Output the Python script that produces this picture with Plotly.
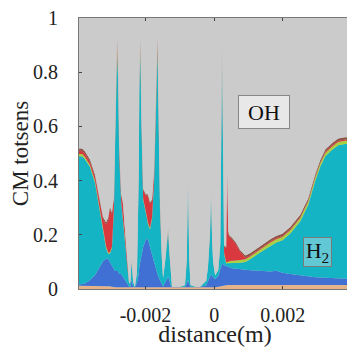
import plotly.graph_objects as go

# distance (m)
x = [-0.00394, -0.00385, -0.00377, -0.00362, -0.00347, -0.00333, -0.00324, -0.00315, -0.00309, -0.00304,
     -0.00298, -0.00292, -0.00289, -0.00286, -0.00283, -0.00280, -0.00277, -0.00271, -0.00266, -0.00260,
     -0.00254, -0.00248, -0.00244, -0.00241, -0.00236, -0.00231, -0.00225, -0.00220, -0.00218, -0.00215,
     -0.00212, -0.00207, -0.00199, -0.00193, -0.00187, -0.00181, -0.00175, -0.00171, -0.00168, -0.00165,
     -0.00162, -0.00158, -0.00153, -0.00149, -0.00143, -0.00139, -0.00134, -0.00131, -0.00127, -0.00123,
     -0.00099, -0.00085, -0.00080, -0.00076, -0.00073, -0.00069, -0.00055, -0.00041, -0.00023, -0.00018,
     -0.00012, -0.00009, -0.00006, -0.00003, 0.00003, 0.00012, 0.00018, 0.00020, 0.00023, 0.00026,
     0.00029, 0.00035, 0.00038, 0.00041, 0.00044, 0.00053, 0.00064, 0.00076, 0.00091, 0.00105,
     0.00134, 0.00164, 0.00181, 0.00199, 0.00222, 0.00251, 0.00274, 0.00295, 0.00309, 0.00324,
     0.00345, 0.00362, 0.00382, 0.00399]

tan = [0.012, 0.012, 0.012, 0.012, 0.012, 0.012, 0.012, 0.012, 0.012, 0.010,
       0.008, 0.006, 0.006, 0.006, 0.006, 0.006, 0.006, 0.005, 0.005, 0.004,
       0.004, 0.004, 0.004, 0.004, 0.004, 0.004, 0.004, 0.004, 0.004, 0.004,
       0.004, 0.004, 0.004, 0.004, 0.004, 0.004, 0.004, 0.004, 0.004, 0.004,
       0.004, 0.004, 0.004, 0.004, 0.004, 0.004, 0.004, 0.004, 0.004, 0.004,
       0.004, 0.004, 0.004, 0.004, 0.004, 0.004, 0.004, 0.004, 0.004, 0.004,
       0.004, 0.004, 0.004, 0.004, 0.006, 0.008, 0.010, 0.010, 0.012, 0.012,
       0.012, 0.015, 0.015, 0.015, 0.015, 0.015, 0.015, 0.015, 0.015, 0.015,
       0.015, 0.015, 0.015, 0.015, 0.015, 0.015, 0.015, 0.015, 0.015, 0.015,
       0.015, 0.015, 0.015, 0.015]

blue = [0.005, 0.006, 0.008, 0.020, 0.040, 0.070, 0.090, 0.100, 0.100, 0.090,
        0.080, 0.070, 0.060, 0.060, 0.060, 0.060, 0.050, 0.050, 0.040, 0.030,
        0.020, 0.005, 0.005, 0.030, 0.005, 0.003, 0.020, 0.050, 0.080, 0.100,
        0.120, 0.150, 0.180, 0.180, 0.150, 0.120, 0.090, 0.070, 0.060, 0.050,
        0.040, 0.030, 0.015, 0.005, 0.020, 0.030, 0.040, 0.030, 0.010, 0.003,
        0.003, 0.004, 0.015, 0.030, 0.015, 0.004, 0.003, 0.003, 0.010, 0.025,
        0.040, 0.050, 0.045, 0.040, 0.030, 0.040, 0.060, 0.070, 0.080, 0.080,
        0.075, 0.070, 0.068, 0.066, 0.065, 0.062, 0.060, 0.058, 0.056, 0.054,
        0.052, 0.050, 0.052, 0.045, 0.040, 0.035, 0.030, 0.028, 0.027, 0.026,
        0.025, 0.024, 0.023, 0.022]

cyan = [0.473, 0.472, 0.460, 0.418, 0.338, 0.208, 0.118, 0.038, 0.018, 0.030,
        0.062, 0.224, 0.454, 0.684, 0.794, 0.714, 0.444, 0.265, 0.215, 0.146,
        0.066, 0.011, 0.016, 0.066, 0.016, 0.001, 0.036, 0.346, 0.666, 0.766,
        0.476, 0.176, 0.096, 0.056, 0.066, 0.136, 0.306, 0.546, 0.756, 0.826,
        0.576, 0.266, 0.101, 0.031, 0.076, 0.116, 0.166, 0.106, 0.046, 0.001,
        0.001, 0.007, 0.081, 0.356, 0.101, 0.007, 0.001, 0.001, 0.016, 0.051,
        0.156, 0.296, 0.131, 0.056, 0.014, 0.022, 0.090, 0.340, 0.768, 0.408,
        0.043, 0.010, 0.012, 0.014, 0.015, 0.018, 0.020, 0.024, 0.029, 0.041,
        0.068, 0.095, 0.105, 0.120, 0.150, 0.200, 0.265, 0.357, 0.408, 0.449,
        0.475, 0.491, 0.497, 0.498]

green = [0.008, 0.008, 0.008, 0.008, 0.008, 0.008, 0.008, 0.008, 0.005, 0.005,
         0.005, 0.005, 0.005, 0.010, 0.030, 0.010, 0.005, 0.005, 0.005, 0.005,
         0.003, 0.000, 0.000, 0.003, 0.000, 0.000, 0.000, 0.005, 0.010, 0.020,
         0.005, 0.005, 0.005, 0.005, 0.005, 0.005, 0.005, 0.005, 0.010, 0.020,
         0.005, 0.005, 0.003, 0.000, 0.000, 0.003, 0.005, 0.003, 0.000, 0.000,
         0.000, 0.000, 0.002, 0.005, 0.002, 0.000, 0.000, 0.000, 0.000, 0.000,
         0.003, 0.005, 0.003, 0.000, 0.000, 0.000, 0.003, 0.005, 0.020, 0.005,
         0.005, 0.005, 0.005, 0.005, 0.008, 0.008, 0.010, 0.010, 0.010, 0.010,
         0.012, 0.012, 0.012, 0.012, 0.012, 0.012, 0.012, 0.012, 0.012, 0.012,
         0.012, 0.012, 0.012, 0.012]

red = [0.012, 0.012, 0.012, 0.012, 0.015, 0.020, 0.030, 0.080, 0.120, 0.160,
       0.120, 0.030, 0.020, 0.020, 0.020, 0.020, 0.030, 0.020, 0.050, 0.030,
       0.005, 0.000, 0.000, 0.003, 0.000, 0.000, 0.000, 0.010, 0.010, 0.020,
       0.020, 0.030, 0.060, 0.100, 0.090, 0.060, 0.030, 0.020, 0.020, 0.020,
       0.020, 0.020, 0.005, 0.000, 0.000, 0.005, 0.005, 0.003, 0.000, 0.000,
       0.000, 0.000, 0.002, 0.005, 0.002, 0.000, 0.000, 0.000, 0.000, 0.000,
       0.003, 0.005, 0.003, 0.000, 0.000, 0.000, 0.003, 0.005, 0.020, 0.010,
       0.020, 0.050, 0.340, 0.110, 0.090, 0.080, 0.060, 0.030, 0.006, 0.004,
       0.004, 0.004, 0.004, 0.004, 0.004, 0.004, 0.004, 0.004, 0.004, 0.005,
       0.005, 0.005, 0.005, 0.005]

brown = [0.008, 0.008, 0.008, 0.008, 0.008, 0.008, 0.008, 0.008, 0.008, 0.008,
         0.008, 0.005, 0.005, 0.010, 0.020, 0.010, 0.005, 0.005, 0.005, 0.005,
         0.003, 0.000, 0.000, 0.003, 0.000, 0.000, 0.000, 0.005, 0.010, 0.020,
         0.005, 0.005, 0.005, 0.005, 0.005, 0.005, 0.005, 0.005, 0.010, 0.020,
         0.005, 0.005, 0.003, 0.000, 0.000, 0.003, 0.005, 0.003, 0.000, 0.000,
         0.000, 0.000, 0.002, 0.005, 0.002, 0.000, 0.000, 0.000, 0.000, 0.000,
         0.003, 0.005, 0.003, 0.000, 0.000, 0.000, 0.003, 0.005, 0.020, 0.005,
         0.005, 0.005, 0.005, 0.005, 0.005, 0.005, 0.006, 0.006, 0.008, 0.008,
         0.008, 0.008, 0.008, 0.008, 0.008, 0.008, 0.008, 0.008, 0.008, 0.008,
         0.008, 0.008, 0.008, 0.008]

# OH fills the remainder up to 1
oh = [1 - (a + b + c + d + e + f) for a, b, c, d, e, f in zip(tan, blue, cyan, green, red, brown)]

y_ticks = [0, 0.2, 0.4, 0.6, 0.8, 1]
y_ticktext = ["0", "0.2", "0.4", "0.6", "0.8", "1"]
x_ticks = [-0.002, 0, 0.002]
x_ticktext = ["-0.002", "0", "0.002"]

layers = [
    ("tan", tan, "#E3B48A"),
    ("blue", blue, "#4070D4"),
    ("H2", cyan, "#14B4C4"),
    ("green", green, "#A8D040"),
    ("red", red, "#D8383E"),
    ("brown", brown, "#8C5040"),
    ("OH", oh, "#CBCBCB"),
]

fig = go.Figure()
for name, vals, col in layers:
    fig.add_trace(go.Scatter(x=x, y=vals, name=name, mode="lines", stackgroup="one",
                             line=dict(width=0, color=col), fillcolor=col, hoverinfo="skip"))

font = "Liberation Serif, Times New Roman, DejaVu Serif, serif"
fig.add_annotation(x=0.00146, y=0.653, text="OH", showarrow=False, xref="x", yref="y",
                   font=dict(family=font, size=22, color="#111"), bgcolor="#E8E8E8",
                   bordercolor="#888888", borderwidth=1, width=50, height=32, borderpad=0)
fig.add_annotation(x=0.00302, y=0.137, text="H<sub>2</sub>", showarrow=False, xref="x", yref="y",
                   font=dict(family=font, size=22, color="#111"), bgcolor="#62C9D4",
                   bordercolor="#7a7a7a", borderwidth=1, width=27, height=28, borderpad=0)

axis_common = dict(showline=True, mirror="ticks", linecolor="#777", linewidth=1,
                   ticks="inside", ticklen=3, tickcolor="#444", showgrid=False, zeroline=False,
                   ticklabeloverflow="allow", automargin=False,
                   tickfont=dict(family=font, size=20, color="#222"))
# page body has an 8px default margin, so the figure is sized to fit the 355x347 window
fig.update_layout(
    width=347, height=339, margin=dict(l=71, r=4, t=10, b=58),
    paper_bgcolor="white", plot_bgcolor="#CBCBCB", showlegend=False,
    xaxis=dict(range=[-0.00394, 0.00399], tickvals=x_ticks, ticktext=x_ticktext,
               ticklabelstandoff=8,
               title=dict(text="distance(m)", font=dict(family=font, size=24, color="#222"), standoff=5),
               **axis_common),
    yaxis=dict(range=[0, 1], tickvals=y_ticks, ticktext=y_ticktext, ticklabelstandoff=16,
               title=dict(text="CM totsens", font=dict(family=font, size=23, color="#222"), standoff=10),
               **axis_common),
)
fig.write_html("out.html")
